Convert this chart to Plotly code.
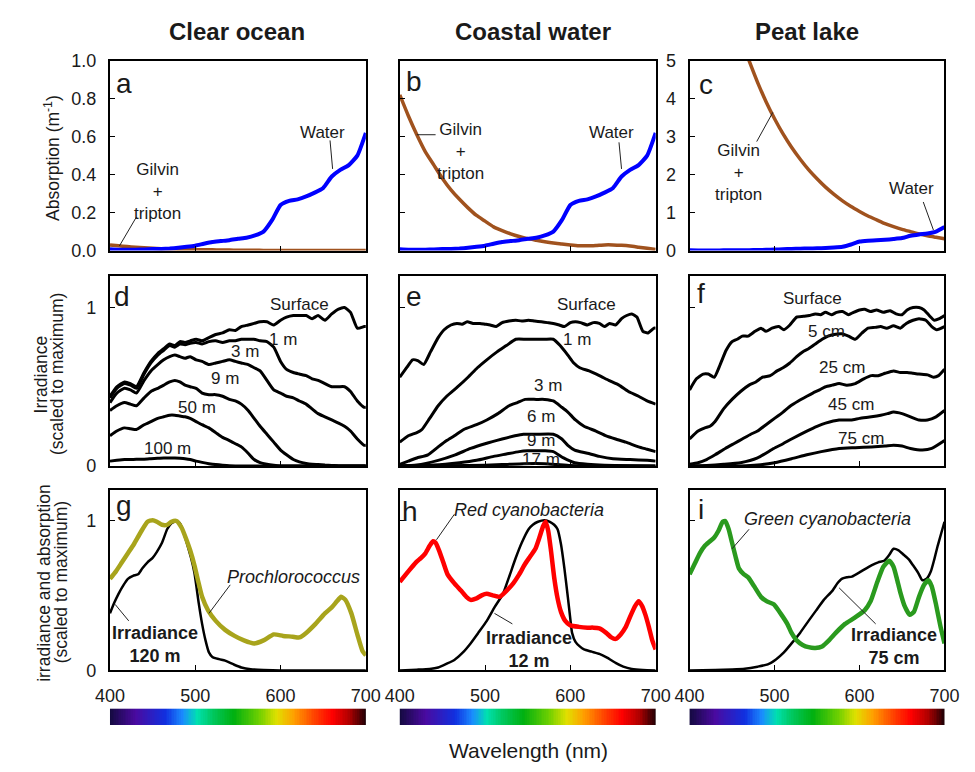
import plotly.graph_objects as go

# ---------------- data ----------------
# Row 1: absorption (m^-1)
WL_ABS = [400, 410, 420, 430, 440, 450, 460, 470, 480, 490, 500, 510, 520, 530, 540, 550,
          560, 570, 580, 590, 600, 610, 620, 630, 640, 650, 660, 670, 680, 690, 700]
WATER_ABS = [0.007, 0.005, 0.005, 0.005, 0.006, 0.008, 0.009, 0.011, 0.015, 0.02, 0.026, 0.036,
             0.045, 0.05, 0.055, 0.062, 0.068, 0.08, 0.1, 0.16, 0.24, 0.262, 0.27, 0.285, 0.305,
             0.33, 0.39, 0.425, 0.45, 0.5, 0.62]
GILVIN_OCEAN = [0.03, 0.025, 0.021, 0.018, 0.015, 0.012, 0.01, 0.009, 0.007, 0.006, 0.005, 0.004,
                0.004, 0.003, 0.003, 0.002, 0.002, 0.002, 0.001, 0.001, 0.001, 0.001, 0.001, 0.001,
                0.001, 0.001, 0.001, 0.001, 0.001, 0.001, 0.001]
GILVIN_COAST = [0.82, 0.71, 0.61, 0.52, 0.45, 0.38, 0.32, 0.27, 0.225, 0.185, 0.155, 0.125, 0.105,
                0.088, 0.074, 0.063, 0.055, 0.047, 0.04, 0.035, 0.03, 0.026, 0.025, 0.027, 0.03,
                0.03, 0.028, 0.024, 0.018, 0.012, 0.006]
GILVIN_PEAT = [11.7, 10.4, 9.2, 8.1, 7.2, 6.4, 5.6, 5.0, 4.43, 3.92, 3.47, 3.07, 2.72, 2.41, 2.13,
               1.89, 1.67, 1.48, 1.31, 1.16, 1.03, 0.91, 0.81, 0.71, 0.63, 0.56, 0.50, 0.44, 0.39,
               0.35, 0.31]

# Row 2: irradiance profiles (scaled to maximum)
D_WL = [400, 408, 417, 424, 431, 440, 448, 456, 463, 470, 476, 482, 488, 494, 501, 508, 516, 524,
        532, 540, 547, 554, 562, 569, 576, 584, 592, 600, 607, 615, 622, 630, 637, 644, 652, 660,
        668, 675, 682, 690, 698, 700]
D_SURFACE = [0.44, 0.50, 0.53, 0.52, 0.50, 0.59, 0.66, 0.71, 0.74, 0.77, 0.76, 0.785, 0.78, 0.79,
             0.80, 0.79, 0.81, 0.83, 0.84, 0.86, 0.855, 0.88, 0.89, 0.90, 0.91, 0.91, 0.89, 0.92,
             0.94, 0.95, 0.95, 0.95, 0.93, 0.95, 0.92, 0.96, 0.99, 1.0, 0.97, 0.87, 0.88, 0.88]
D_1M = [0.43, 0.49, 0.52, 0.51, 0.49, 0.58, 0.65, 0.70, 0.73, 0.76, 0.75, 0.77, 0.765, 0.775, 0.78,
        0.77, 0.785, 0.79, 0.78, 0.79, 0.79, 0.80, 0.80, 0.80, 0.79, 0.785, 0.75, 0.66, 0.61, 0.59,
        0.58, 0.57, 0.55, 0.54, 0.52, 0.50, 0.50, 0.50, 0.47, 0.41, 0.37, 0.37]
D_3M = [0.40, 0.46, 0.49, 0.48, 0.46, 0.54, 0.60, 0.64, 0.67, 0.69, 0.70, 0.69, 0.68, 0.69, 0.67,
        0.66, 0.64, 0.65, 0.66, 0.67, 0.66, 0.65, 0.64, 0.62, 0.60, 0.54, 0.48, 0.46, 0.44, 0.43,
        0.41, 0.39, 0.36, 0.33, 0.31, 0.29, 0.27, 0.25, 0.22, 0.17, 0.13, 0.13]
D_9M = [0.35, 0.38, 0.40, 0.39, 0.38, 0.43, 0.47, 0.49, 0.51, 0.53, 0.54, 0.53, 0.51, 0.50, 0.49,
        0.46, 0.45, 0.45, 0.44, 0.42, 0.41, 0.39, 0.35, 0.30, 0.25, 0.20, 0.15, 0.10, 0.07, 0.04,
        0.025, 0.015, 0.01, 0.008, 0.005, 0.003, 0.0, 0.0, 0.0, 0.0, 0.0, 0.0]
D_50M = [0.19, 0.22, 0.24, 0.235, 0.23, 0.26, 0.28, 0.30, 0.31, 0.32, 0.32, 0.315, 0.31, 0.30, 0.28,
         0.26, 0.24, 0.21, 0.18, 0.16, 0.14, 0.12, 0.08, 0.04, 0.02, 0.01, 0.004, 0.0, 0.0, 0.0,
         0.0, 0.0, 0.0, 0.0, 0.0, 0.0, 0.0, 0.0, 0.0, 0.0, 0.0, 0.0]
D_100M = [0.03, 0.035, 0.04, 0.04, 0.042, 0.042, 0.045, 0.048, 0.05, 0.05, 0.05, 0.048, 0.045, 0.04,
          0.03, 0.022, 0.014, 0.008, 0.004, 0.001, 0.0, 0.0, 0.0, 0.0, 0.0, 0.0, 0.0, 0.0, 0.0, 0.0,
          0.0, 0.0, 0.0, 0.0, 0.0, 0.0, 0.0, 0.0, 0.0, 0.0, 0.0, 0.0]

E_SURF_WL = [400, 408, 415, 421, 428, 436, 445, 452, 460, 467, 473, 479, 486, 494, 500, 506, 513,
             520, 528, 536, 543, 551, 558, 566, 573, 580, 587, 593, 600, 606, 612, 620, 627, 634,
             640, 646, 653, 660, 666, 672, 678, 685, 691, 698, 700]
E_SURFACE = [0.56, 0.62, 0.67, 0.665, 0.64, 0.72, 0.81, 0.86, 0.89, 0.90, 0.895, 0.91, 0.90, 0.90,
             0.895, 0.89, 0.88, 0.905, 0.915, 0.92, 0.915, 0.92, 0.915, 0.91, 0.905, 0.90, 0.89,
             0.88, 0.905, 0.91, 0.905, 0.89, 0.905, 0.90, 0.88, 0.90, 0.89, 0.93, 0.95, 0.96, 0.94,
             0.85, 0.84, 0.87, 0.87]
E_1M_WL = [400, 410, 420, 426, 435, 445, 455, 468, 480, 491, 502, 514, 525, 536, 548, 559, 570,
           580, 588, 597, 604, 611, 622, 634, 645, 657, 668, 680, 690, 700]
E_1M = [0.15, 0.19, 0.21, 0.23, 0.30, 0.38, 0.44, 0.50, 0.56, 0.62, 0.67, 0.72, 0.76, 0.80, 0.80,
        0.80, 0.80, 0.80, 0.76, 0.70, 0.65, 0.62, 0.60, 0.57, 0.54, 0.51, 0.47, 0.44, 0.41, 0.39]
E_3M_WL = [400, 410, 420, 433, 445, 455, 464, 475, 490, 502, 515, 528, 538, 547, 560, 570, 580,
           590, 597, 606, 616, 630, 642, 653, 665, 680, 690, 700]
E_3M = [0.01, 0.03, 0.05, 0.07, 0.12, 0.16, 0.19, 0.23, 0.26, 0.29, 0.33, 0.38, 0.40, 0.42, 0.42,
        0.42, 0.41, 0.37, 0.34, 0.29, 0.25, 0.22, 0.19, 0.17, 0.15, 0.12, 0.105, 0.09]
E_6M_WL = [400, 420, 445, 465, 483, 500, 520, 535, 545, 560, 580, 590, 597, 605, 620, 634, 650,
           670, 690, 700]
E_6M = [0.0, 0.005, 0.035, 0.07, 0.11, 0.14, 0.17, 0.19, 0.20, 0.20, 0.20, 0.17, 0.13, 0.10, 0.08,
        0.06, 0.045, 0.04, 0.035, 0.03]
E_9M_WL = [400, 440, 470, 490, 510, 525, 540, 550, 570, 580, 592, 605, 620, 640, 700]
E_9M = [0.0, 0.005, 0.02, 0.035, 0.06, 0.075, 0.09, 0.095, 0.095, 0.09, 0.05, 0.02, 0.01, 0.004, 0.0]
E_17M_WL = [400, 480, 520, 545, 570, 585, 600, 620, 700]
E_17M = [0.0, 0.002, 0.008, 0.014, 0.014, 0.008, 0.002, 0.0, 0.0]

F_SURF_WL = [400, 408, 416, 422, 429, 436, 443, 450, 456, 462, 469, 477, 484, 490, 497, 505, 511,
             518, 526, 534, 541, 548, 554, 560, 567, 573, 580, 587, 593, 600, 606, 613, 620, 628,
             636, 643, 650, 656, 663, 670, 676, 682, 688, 694, 700]
F_SURFACE = [0.48, 0.55, 0.58, 0.58, 0.56, 0.64, 0.73, 0.785, 0.80, 0.82, 0.82, 0.85, 0.87, 0.85,
             0.87, 0.88, 0.86, 0.89, 0.94, 0.945, 0.95, 0.96, 0.955, 0.97, 0.955, 0.97, 0.975,
             0.955, 0.97, 0.985, 0.99, 0.975, 0.985, 0.97, 0.98, 0.96, 0.955, 0.985, 1.0, 1.0,
             0.985, 0.95, 0.92, 0.93, 0.95]
F_5CM_WL = [400, 410, 418, 424, 430, 440, 450, 460, 470, 478, 486, 495, 503, 510, 518, 526, 533,
            540, 548, 556, 563, 570, 579, 587, 595, 603, 610, 618, 625, 632, 640, 648, 655, 663,
            670, 678, 685, 691, 700]
F_5CM = [0.17, 0.22, 0.24, 0.25, 0.28, 0.36, 0.42, 0.47, 0.51, 0.53, 0.56, 0.57, 0.60, 0.62, 0.65,
         0.69, 0.72, 0.74, 0.77, 0.80, 0.82, 0.83, 0.835, 0.82, 0.80, 0.84, 0.87, 0.875, 0.88,
         0.87, 0.885, 0.87, 0.90, 0.92, 0.93, 0.92, 0.88, 0.86, 0.88]
F_25CM_WL = [400, 410, 420, 430, 442, 452, 462, 472, 480, 490, 500, 510, 519, 528, 538, 545, 553,
             560, 568, 576, 585, 595, 605, 614, 622, 630, 640, 648, 656, 663, 670, 680, 687, 693, 700]
F_25CM = [0.01, 0.02, 0.04, 0.07, 0.11, 0.14, 0.17, 0.20, 0.22, 0.26, 0.30, 0.34, 0.38, 0.41, 0.44,
          0.46, 0.48, 0.50, 0.51, 0.52, 0.51, 0.52, 0.55, 0.57, 0.57, 0.585, 0.60, 0.59, 0.59,
          0.585, 0.58, 0.575, 0.56, 0.57, 0.61]
F_45CM_WL = [400, 420, 440, 460, 480, 499, 510, 520, 538, 550, 560, 576, 590, 600, 614, 625, 633,
             640, 650, 660, 670, 680, 690, 700]
F_45CM = [0.0, 0.003, 0.01, 0.02, 0.05, 0.11, 0.14, 0.17, 0.22, 0.25, 0.27, 0.29, 0.29, 0.30, 0.31,
          0.32, 0.33, 0.34, 0.33, 0.31, 0.29, 0.29, 0.31, 0.35]
F_75CM_WL = [400, 460, 480, 500, 520, 538, 555, 576, 595, 614, 630, 640, 650, 660, 674, 685, 700]
F_75CM = [0.0, 0.0, 0.005, 0.02, 0.045, 0.07, 0.09, 0.11, 0.115, 0.12, 0.125, 0.13, 0.125, 0.11,
          0.10, 0.11, 0.16]

# Row 3: irradiance vs. pigment absorption (scaled to maximum)
G_PRO_WL = [400, 407, 414, 421, 428, 436, 444, 450, 455, 461, 467, 472, 478, 484, 489, 494, 499,
            504, 508, 515, 524, 535, 546, 557, 569, 580, 592, 603, 614, 622, 630, 641, 652, 660,
            666, 671, 676, 683, 690, 696, 700]
G_PROCHLOROCOCCUS = [0.61, 0.66, 0.72, 0.78, 0.84, 0.92, 0.99, 1.0, 0.99, 0.97, 0.97, 0.99, 0.995,
                     0.95, 0.88, 0.80, 0.70, 0.58, 0.49, 0.40, 0.33, 0.27, 0.23, 0.20, 0.18, 0.20,
                     0.24, 0.23, 0.225, 0.22, 0.25, 0.31, 0.38, 0.42, 0.46, 0.49, 0.47, 0.38, 0.24,
                     0.13, 0.10]
G_IRR_WL = [400, 405, 410, 416, 421, 427, 433, 438, 444, 450, 455, 461, 467, 472, 478, 482, 485,
            490, 495, 499, 504, 508, 512, 516, 520, 528, 535, 545, 554, 565, 580, 600, 700]
G_IRR_120M = [0.38, 0.45, 0.51, 0.57, 0.61, 0.63, 0.64, 0.68, 0.72, 0.75, 0.79, 0.85, 0.94, 0.98,
              0.995, 0.98, 0.94, 0.85, 0.75, 0.65, 0.45, 0.31, 0.20, 0.12, 0.09, 0.075, 0.065,
              0.04, 0.02, 0.008, 0.003, 0.0, 0.0]

H_RED_WL = [400, 410, 419, 425, 430, 435, 439, 442, 446, 451, 456, 464, 472, 478, 483, 490, 496,
            502, 509, 517, 525, 533, 540, 547, 553, 559, 564, 568, 571, 574, 577, 581, 585, 589,
            594, 600, 610, 620, 627, 634, 642, 648, 653, 659, 665, 671, 676, 680, 684, 688, 692,
            696, 700]
H_RED_CYANO = [0.59, 0.66, 0.72, 0.75, 0.78, 0.83, 0.86, 0.85, 0.80, 0.72, 0.64, 0.58, 0.53, 0.49,
               0.47, 0.48, 0.50, 0.51, 0.50, 0.49, 0.53, 0.58, 0.64, 0.71, 0.76, 0.81, 0.89, 0.96,
               0.99, 0.93, 0.81, 0.62, 0.48, 0.39, 0.33, 0.30, 0.29, 0.285, 0.285, 0.28, 0.25,
               0.22, 0.21, 0.24, 0.29, 0.37, 0.43, 0.46, 0.43, 0.37, 0.29, 0.20, 0.14]
H_IRR_WL = [400, 420, 435, 445, 455, 464, 474, 483, 492, 502, 511, 521, 528, 536, 543, 551, 556,
            562, 570, 576, 581, 585, 589, 593, 597, 600, 602, 606, 611, 616, 625, 634, 643, 653,
            662, 672, 685, 700]
H_IRR_12M = [0.0, 0.005, 0.01, 0.02, 0.045, 0.07, 0.12, 0.18, 0.25, 0.33, 0.42, 0.51, 0.62, 0.75,
             0.85, 0.94, 0.97, 0.99, 1.0, 0.99, 0.97, 0.94, 0.84, 0.68, 0.49, 0.34, 0.25, 0.19,
             0.16, 0.14, 0.125, 0.11, 0.085, 0.05, 0.025, 0.01, 0.003, 0.0]

I_GREEN_WL = [400, 406, 412, 418, 424, 429, 434, 439, 442, 446, 450, 454, 458, 464, 469, 476, 484,
              491, 499, 507, 515, 520, 526, 533, 540, 548, 556, 564, 572, 583, 594, 606, 613, 621,
              628, 635, 640, 644, 648, 653, 659, 664, 670, 676, 681, 685, 690, 695, 700]
I_GREEN_CYANO = [0.64, 0.71, 0.78, 0.83, 0.86, 0.885, 0.93, 0.99, 0.995, 0.94, 0.85, 0.76, 0.68,
                 0.64, 0.62, 0.56, 0.49, 0.46, 0.44, 0.38, 0.31, 0.25, 0.20, 0.17, 0.155, 0.15,
                 0.16, 0.20, 0.25, 0.31, 0.35, 0.40, 0.46, 0.59, 0.69, 0.73, 0.69, 0.61, 0.52,
                 0.43, 0.37, 0.39, 0.49, 0.57, 0.60, 0.56, 0.44, 0.30, 0.18]
I_IRR_WL = [400, 430, 450, 465, 480, 492, 502, 511, 520, 530, 540, 549, 558, 568, 574, 579, 585,
            591, 602, 614, 622, 629, 635, 640, 646, 652, 658, 663, 669, 674, 679, 684, 688, 692,
            696, 700]
I_IRR_75CM = [0.0, 0.003, 0.007, 0.012, 0.025, 0.04, 0.075, 0.12, 0.18, 0.25, 0.33, 0.40, 0.47,
              0.53, 0.58, 0.61, 0.62, 0.625, 0.66, 0.70, 0.72, 0.73, 0.77, 0.81, 0.80, 0.77, 0.74,
              0.70, 0.65, 0.60, 0.61, 0.66, 0.74, 0.83, 0.91, 0.99]

# Spectrum colour bar
SPECTRUM_WL = list(range(400, 701, 2))
SPECTRUM_STOPS = [(400, "#140a40"), (430, "#4a0aa0"), (465, "#1030e0"), (485, "#1a8cff"),
                  (502, "#00e0b0"), (520, "#00c860"), (545, "#00b010"), (575, "#70d000"),
                  (595, "#e0e000"), (615, "#ffa000"), (640, "#ff4000"), (660, "#ff0000"),
                  (680, "#b00000"), (700, "#1a0005")]

COL_TITLES = ["Clear ocean", "Coastal water", "Peat lake"]
PANEL_LETTERS = ["a", "b", "c", "d", "e", "f", "g", "h", "i"]
X_TICKS = [400, 500, 600, 700]

# ---------------- styles / layout ----------------
W, H = 975, 772
FONT = "Arial, 'Liberation Sans', sans-serif"
TXT = "#1a1a1a"
BLUE = "#0000ff"
BROWN = "#a0521e"
OLIVE = "#a8a41c"
RED = "#ff0000"
GREEN = "#2a9a1e"
BLACK = "#000000"

COLS_PX = [(98, 362), (397, 661), (696, 959)]
ROWS_PX = [(52, 247), (273, 468), (493, 678)]
CBAR_PX = (717, 734)


def xd(c):
    return [COLS_PX[c][0] / W, COLS_PX[c][1] / W]


def yd(top, bottom):
    return [1 - bottom / H, 1 - top / H]


def ax_id(k):
    return ("x", "y") if k == 1 else (f"x{k}", f"y{k}")


fig = go.Figure()
layout = dict(width=W, height=H, margin=dict(l=0, r=0, t=0, b=0),
              paper_bgcolor="white", plot_bgcolor="white", showlegend=False,
              font=dict(family=FONT, size=18, color=TXT))

Y_RANGES = [[0, 1], [0, 1], [0, 5], [0, 1.2], [0, 1.2], [0, 1.2], [0, 1.2], [0, 1.2], [0, 1.2]]
Y_TICKS = [[0, 0.2, 0.4, 0.6, 0.8, 1.0], [0, 0.2, 0.4, 0.6, 0.8, 1.0], [0, 1, 2, 3, 4, 5],
           [0, 1], [0, 1], [0, 1], [0, 1], [0, 1], [0, 1]]

for r in range(3):
    for c in range(3):
        k = r * 3 + c + 1
        xa, ya = ax_id(k)
        xname = "xaxis" if k == 1 else f"xaxis{k}"
        yname = "yaxis" if k == 1 else f"yaxis{k}"
        layout[xname] = dict(domain=xd(c), anchor=ya, range=[400, 700], tickvals=X_TICKS,
                             ticks="inside", ticklen=5, tickwidth=1.2, tickcolor=BLACK,
                             showline=True, mirror=True, linecolor=BLACK, linewidth=2,
                             showgrid=False, zeroline=False, showticklabels=(r == 2),
                             tickfont=dict(size=18, color=TXT, family=FONT),
                             ticklabelstandoff=8)
        showy = (c == 0) or (k == 3)
        layout[yname] = dict(domain=yd(*ROWS_PX[r]), anchor=xa, range=Y_RANGES[k - 1],
                             tickvals=Y_TICKS[k - 1],
                             ticktext=(["0.0", "0.2", "0.4", "0.6", "0.8", "1.0"] if k == 1 else None),
                             ticks="inside", ticklen=5, tickwidth=1.2, tickcolor=BLACK,
                             showline=True, mirror=True, linecolor=BLACK, linewidth=2,
                             showgrid=False, zeroline=False, showticklabels=showy,
                             tickfont=dict(size=18, color=TXT, family=FONT),
                             ticklabelstandoff=8)

# colour bars
for c in range(3):
    k = 10 + c
    xa, ya = f"x{k}", f"y{k}"
    layout[f"xaxis{k}"] = dict(domain=xd(c), anchor=ya, range=[400, 700], visible=False)
    layout[f"yaxis{k}"] = dict(domain=yd(*CBAR_PX), anchor=xa, range=[-0.5, 0.5], visible=False)
    fig.add_trace(go.Heatmap(x=SPECTRUM_WL, y=[0], z=[SPECTRUM_WL], zmin=400, zmax=700,
                             colorscale=[[(w - 400) / 300, col] for w, col in SPECTRUM_STOPS],
                             showscale=False, xaxis=xa, yaxis=ya, hoverinfo="skip"))


def line(k, x, y, color, width):
    xa, ya = ax_id(k)
    fig.add_trace(go.Scatter(x=x, y=y, mode="lines", xaxis=xa, yaxis=ya,
                             line=dict(color=color, width=width, shape="spline", smoothing=0.5),
                             hoverinfo="skip"))


# Row 1
line(1, WL_ABS, GILVIN_OCEAN, BROWN, 3.5)
line(1, WL_ABS, WATER_ABS, BLUE, 4)
line(2, WL_ABS, GILVIN_COAST, BROWN, 3.5)
line(2, WL_ABS, WATER_ABS, BLUE, 4)
line(3, WL_ABS, GILVIN_PEAT, BROWN, 3.5)
line(3, WL_ABS, WATER_ABS, BLUE, 4)
# Row 2
for ys in [D_SURFACE, D_1M, D_3M, D_9M, D_50M, D_100M]:
    line(4, D_WL, ys, BLACK, 3)
for xs, ys in [(E_SURF_WL, E_SURFACE), (E_1M_WL, E_1M), (E_3M_WL, E_3M), (E_6M_WL, E_6M),
               (E_9M_WL, E_9M), (E_17M_WL, E_17M)]:
    line(5, xs, ys, BLACK, 3)
for xs, ys in [(F_SURF_WL, F_SURFACE), (F_5CM_WL, F_5CM), (F_25CM_WL, F_25CM),
               (F_45CM_WL, F_45CM), (F_75CM_WL, F_75CM)]:
    line(6, xs, ys, BLACK, 3)
# Row 3
line(7, G_IRR_WL, G_IRR_120M, BLACK, 2.5)
line(7, G_PRO_WL, G_PROCHLOROCOCCUS, OLIVE, 4.5)
line(8, H_IRR_WL, H_IRR_12M, BLACK, 2.5)
line(8, H_RED_WL, H_RED_CYANO, RED, 4.5)
line(9, I_IRR_WL, I_IRR_75CM, BLACK, 2.5)
line(9, I_GREEN_WL, I_GREEN_CYANO, GREEN, 4.5)

annotations = []
shapes = []


def label(k, x, y, text, size=18, **kw):
    xa, ya = ax_id(k)
    annotations.append(dict(x=x, y=y, xref=xa, yref=ya, text=text, showarrow=False,
                            font=dict(size=size, color=TXT, family=FONT), **kw))


def leader(k, x0, y0, x1, y1):
    xa, ya = ax_id(k)
    shapes.append(dict(type="line", xref=xa, yref=ya, x0=x0, y0=y0, x1=x1, y1=y1,
                       line=dict(color="#222", width=1)))


# panel letters
LETTER_POS = [(416, 0.88), (417, 0.89), (419, 4.38), (414, 1.07), (417, 1.07), (414, 1.09),
              (417, 1.10), (412, 1.06), (413, 1.07)]
for k, (lx, ly) in enumerate(LETTER_POS, start=1):
    label(k, lx, ly, PANEL_LETTERS[k - 1], size=28)

# row 1 labels
label(1, 649, 0.62, "Water", 17)
leader(1, 658, 0.58, 661, 0.43)
label(1, 456, 0.31, "Gilvin<br>+<br>tripton", 17)
leader(1, 431, 0.177, 411, 0.024)
label(2, 471, 0.52, "Gilvin<br>+<br>tripton", 17)
leader(2, 420, 0.61, 442, 0.61)
label(2, 648, 0.62, "Water", 17)
leader(2, 657, 0.57, 660, 0.43)
label(3, 458, 2.05, "Gilvin<br>+<br>tripton", 17)
leader(3, 479, 2.87, 498, 3.64)
label(3, 661, 1.64, "Water", 17)
leader(3, 675, 1.28, 687, 0.54)

# row 2 labels
for txt, lx, ly in [("Surface", 622, 1.02), ("1 m", 603, 0.80), ("3 m", 558, 0.72),
                    ("9 m", 535, 0.55), ("50 m", 502, 0.37), ("100 m", 467, 0.11)]:
    label(4, lx, ly, txt, 17)
for txt, lx, ly in [("Surface", 619, 1.02), ("1 m", 608, 0.80), ("3 m", 574, 0.51),
                    ("6 m", 566, 0.31), ("9 m", 566, 0.16), ("17 m", 566, 0.04)]:
    label(5, lx, ly, txt, 17)
for txt, lx, ly in [("Surface", 545, 1.06), ("5 cm", 561, 0.85), ("25 cm", 579, 0.62),
                    ("45 cm", 590, 0.39), ("75 cm", 602, 0.17)]:
    label(6, lx, ly, txt, 17)

# row 3 labels
label(7, 453, 0.17, "<b>Irradiance<br>120 m</b>", 18)
leader(7, 422, 0.33, 406, 0.44)
label(7, 615, 0.62, "<i>Prochlorococcus</i>", 18)
leader(7, 541, 0.57, 516, 0.38)
label(8, 551, 1.07, "<i>Red cyanobacteria</i>", 18)
leader(8, 464, 1.04, 443, 0.87)
label(8, 551, 0.14, "<b>Irradiance<br>12 m</b>", 18)
leader(8, 532, 0.31, 511, 0.38)
label(9, 562, 1.01, "<i>Green cyanobacteria</i>", 18)
leader(9, 470, 0.94, 450, 0.81)
label(9, 641, 0.16, "<b>Irradiance<br>75 cm</b>", 18)
leader(9, 576, 0.55, 619, 0.31)


def paper_text(px, py, text, size, angle=0):
    annotations.append(dict(x=px / W, y=1 - py / H, xref="paper", yref="paper", text=text,
                            showarrow=False, textangle=angle, xanchor="center", yanchor="middle",
                            font=dict(size=size, color=TXT, family=FONT)))


for title, cx in zip(COL_TITLES, [229, 534, 817]):
    paper_text(cx, 22, f"<b>{title}</b>", 24)
paper_text(38, 152, "Absorption (m<sup>-1</sup>)", 17.5, -90)
paper_text(27, 374, "Irradiance", 17.5, -90)
paper_text(44, 374, "(scaled to maximum)", 17.5, -90)
paper_text(30, 588, "irradiance and absorption", 17.5, -90)
paper_text(47, 588, "(scaled to maximum)", 17.5, -90)
paper_text(530, 760, "Wavelength (nm)", 21)

layout["annotations"] = annotations
layout["shapes"] = shapes
fig.update_layout(**layout)
fig.write_html("out.html")
